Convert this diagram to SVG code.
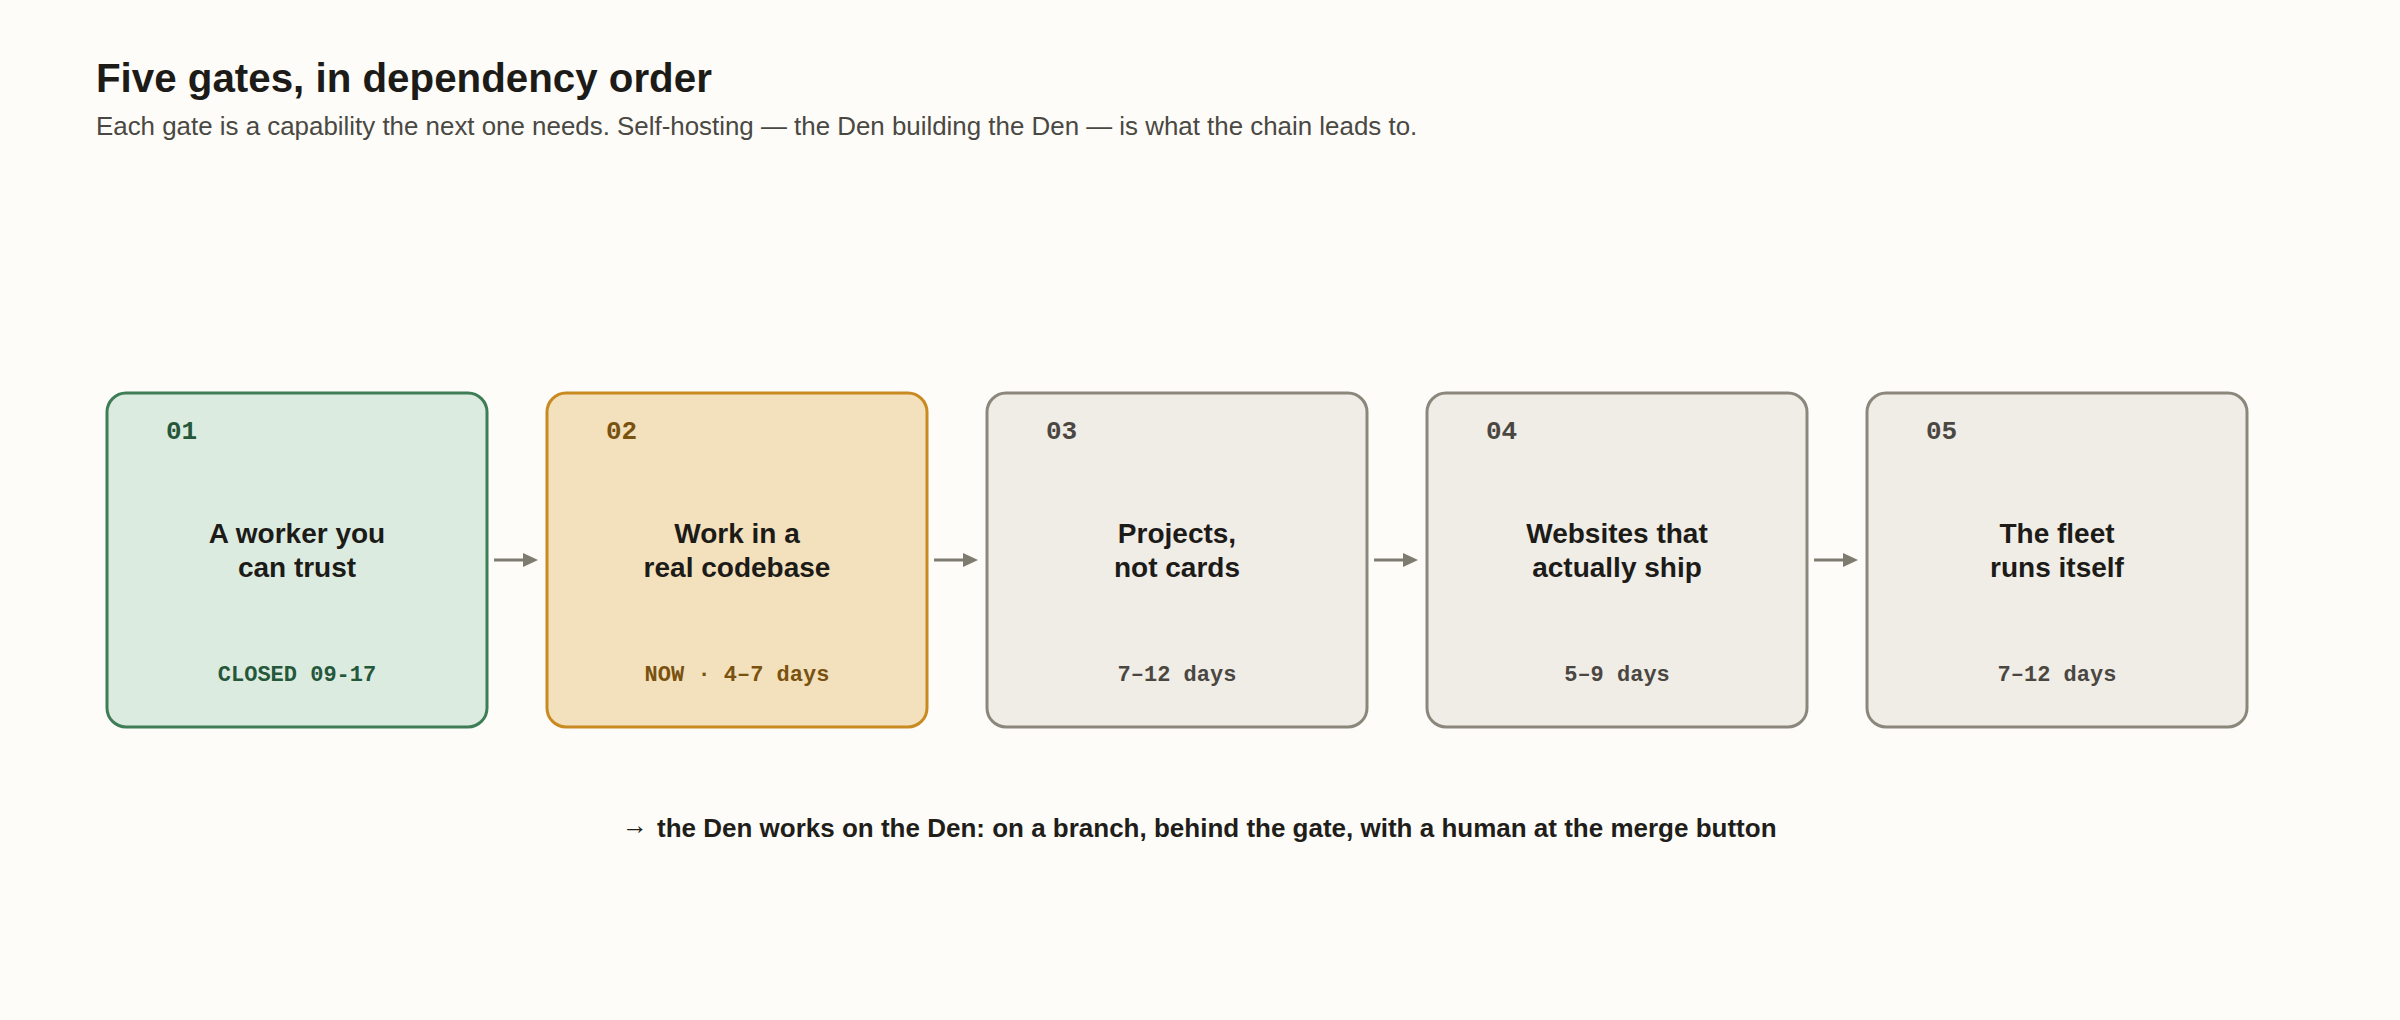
<svg xmlns="http://www.w3.org/2000/svg" width="2400" height="1020" viewBox="0 0 2400 1020">
  <defs>
    <marker id="ah" markerUnits="userSpaceOnUse" markerWidth="16" markerHeight="16" viewBox="0 0 16 16" refX="1" refY="8" orient="auto">
      <path d="M1,1 L16,8 L1,15 Z" fill="#7e7b71"/>
    </marker>
    <style>
      .title { font-family: "Liberation Sans", Arial, sans-serif; font-weight: 700; font-size: 40.3px; fill: #1c1b18; }
      .sub { font-family: "Liberation Sans", Arial, sans-serif; font-size: 25.9px; fill: #4a4843; }
      .card { stroke-width: 3; }
      .done { fill: #dcebe0; stroke: #3e7d55; }
      .now { fill: #f3e0bc; stroke: #c98a22; }
      .todo { fill: #f0ece6; stroke: #8b877c; }
      .num { font-family: "Liberation Mono", "DejaVu Sans Mono", monospace; font-weight: 700; font-size: 26px; }
      .name { font-family: "Liberation Sans", Arial, sans-serif; font-weight: 700; font-size: 28px; fill: #1c1b18; text-anchor: middle; }
      .meta { font-family: "Liberation Mono", "DejaVu Sans Mono", monospace; font-weight: 700; font-size: 22px; text-anchor: middle; }
      .c-done { fill: #25573a; }
      .c-now { fill: #7a5210; }
      .c-todo { fill: #4a4742; }
      .conn { stroke: #7e7b71; stroke-width: 3; fill: none; }
      .foot { font-family: "Liberation Sans", Arial, sans-serif; font-weight: 700; font-size: 26px; fill: #1f1e1b; }
    </style>
  </defs>
  <rect x="0" y="0" width="2400" height="1020" fill="#fdfcf8"/>

  <g id="header">
    <text class="title" x="96" y="92">Five gates, in dependency order</text>
    <text class="sub" x="96" y="135">Each gate is a capability the next one needs. Self-hosting — the Den building the Den — is what the chain leads to.</text>
  </g>

  <g id="gate-01">
    <rect class="card done" x="107" y="393" width="380" height="334" rx="19"/>
    <text class="num c-done" x="166" y="439">01</text>
    <text class="name" x="297" y="543">A worker you</text>
    <text class="name" x="297" y="577">can trust</text>
    <text class="meta c-done" x="297" y="681">CLOSED 09-17</text>
  </g>

  <g id="gate-02">
    <rect class="card now" x="547" y="393" width="380" height="334" rx="19"/>
    <text class="num c-now" x="606" y="439">02</text>
    <text class="name" x="737" y="543">Work in a</text>
    <text class="name" x="737" y="577">real codebase</text>
    <text class="meta c-now" x="737" y="681">NOW · 4–7 days</text>
  </g>

  <g id="gate-03">
    <rect class="card todo" x="987" y="393" width="380" height="334" rx="19"/>
    <text class="num c-todo" x="1046" y="439">03</text>
    <text class="name" x="1177" y="543">Projects,</text>
    <text class="name" x="1177" y="577">not cards</text>
    <text class="meta c-todo" x="1177" y="681">7–12 days</text>
  </g>

  <g id="gate-04">
    <rect class="card todo" x="1427" y="393" width="380" height="334" rx="19"/>
    <text class="num c-todo" x="1486" y="439">04</text>
    <text class="name" x="1617" y="543">Websites that</text>
    <text class="name" x="1617" y="577">actually ship</text>
    <text class="meta c-todo" x="1617" y="681">5–9 days</text>
  </g>

  <g id="gate-05">
    <rect class="card todo" x="1867" y="393" width="380" height="334" rx="19"/>
    <text class="num c-todo" x="1926" y="439">05</text>
    <text class="name" x="2057" y="543">The fleet</text>
    <text class="name" x="2057" y="577">runs itself</text>
    <text class="meta c-todo" x="2057" y="681">7–12 days</text>
  </g>

  <g id="connectors">
    <line class="conn" x1="494" y1="560" x2="523" y2="560" marker-end="url(#ah)"/>
    <line class="conn" x1="934" y1="560" x2="963" y2="560" marker-end="url(#ah)"/>
    <line class="conn" x1="1374" y1="560" x2="1403" y2="560" marker-end="url(#ah)"/>
    <line class="conn" x1="1814" y1="560" x2="1843" y2="560" marker-end="url(#ah)"/>
  </g>

  <g id="footer">
    <text class="foot" x="622" y="834">→</text>
    <text class="foot" x="657" y="837">the Den works on the Den: on a branch, behind the gate, with a human at the merge button</text>
  </g>
</svg>
